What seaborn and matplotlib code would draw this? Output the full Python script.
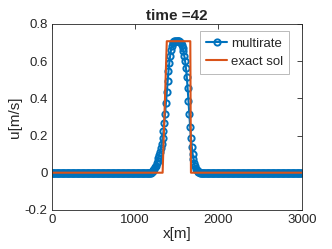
import numpy as np
import pandas as pd
import matplotlib
matplotlib.use("Agg")
import matplotlib.pyplot as plt
import seaborn as sns

# grid of the numerical solution (dx = 10 m)
x_num = np.arange(0, 3001, 10)

# multirate solution values over the pulse region
pulse_x = np.arange(1200, 1790, 10)
pulse_u = [0.005, 0.008, 0.013, 0.020, 0.028, 0.038, 0.050, 0.063, 0.078, 0.095,
           0.112, 0.132, 0.155, 0.185, 0.222, 0.268, 0.318, 0.375, 0.435, 0.495,
           0.545, 0.590, 0.628, 0.658, 0.680, 0.695, 0.703, 0.707, 0.708, 0.709,
           0.709, 0.709, 0.708, 0.706, 0.702, 0.695, 0.685, 0.670, 0.652, 0.628,
           0.598, 0.562, 0.515, 0.455, 0.385, 0.315, 0.248, 0.188, 0.140, 0.102,
           0.072, 0.050, 0.034, 0.022, 0.014, 0.008, 0.004, 0.002, 0.001]

# exact solution (piecewise linear)
x_exact = [0, 1330, 1380, 1662, 1670, 3000]
u_exact = [0, 0, 0.707, 0.707, 0, 0]

u_num = np.zeros(len(x_num))
u_num[(x_num >= 1200) & (x_num < 1790)] = pulse_u

blue = "#0072BD"
orange = "#D95319"

sns.set_style("white")
plt.rcParams["font.family"] = ["Liberation Sans", "DejaVu Sans"]
plt.rcParams["axes.unicode_minus"] = False

fig = plt.figure(figsize=(3.32, 2.49), dpi=100)
ax = fig.add_axes([0.156, 0.157, 0.753, 0.747])

num_df = pd.DataFrame({"x": x_num, "u": u_num})
exact_df = pd.DataFrame({"x": x_exact, "u": u_exact})

sns.lineplot(data=num_df, x="x", y="u", ax=ax, color=blue, lw=1.5,
             marker="o", markersize=4.5, markerfacecolor="none",
             markeredgecolor=blue, markeredgewidth=1.4, label="multirate")
sns.lineplot(data=exact_df, x="x", y="u", ax=ax, color=orange, lw=1.5,
             label="exact sol")

ax.set_xlim(0, 3000)
ax.set_ylim(-0.2, 0.8)
ax.set_xticks([0, 1000, 2000, 3000])
ax.set_yticks([-0.2, 0, 0.2, 0.4, 0.6, 0.8])
ax.set_yticklabels(["-0.2", "0", "0.2", "0.4", "0.6", "0.8"])
ax.tick_params(direction="in", length=3.5, width=0.6, labelsize=9.5,
               top=True, right=True, colors="#262626", pad=3)
for s in ax.spines.values():
    s.set_linewidth(0.6)
    s.set_color("#262626")

ax.set_xlabel("x[m]", fontsize=11, color="#262626", labelpad=1)
ax.set_ylabel("u[m/s]", fontsize=11, color="#262626", labelpad=2)
ax.set_title("time =42", fontsize=11, fontweight="bold", pad=3)

leg = ax.legend(loc="upper right", bbox_to_anchor=(0.95, 0.96), fontsize=9.5,
                frameon=True, fancybox=False, framealpha=1, edgecolor="#b0b0b0",
                handlelength=1.6, handletextpad=0.3, borderpad=0.45,
                labelspacing=0.45, borderaxespad=0)
leg.get_frame().set_linewidth(0.6)

fig.savefig("out.png", dpi=100)
